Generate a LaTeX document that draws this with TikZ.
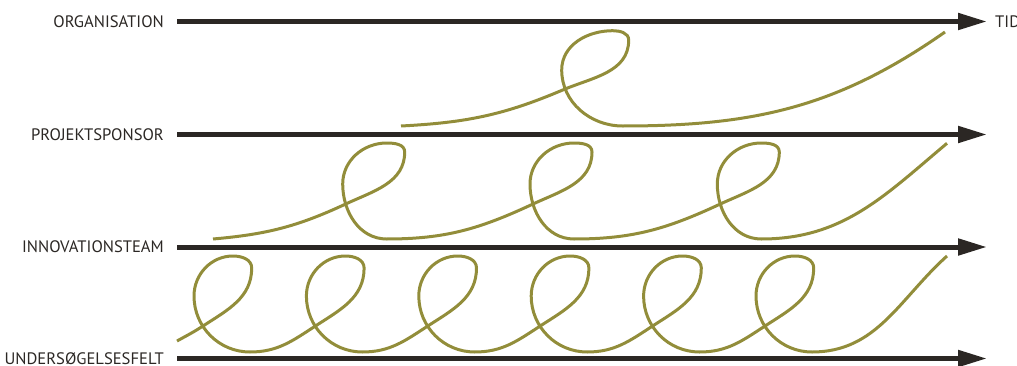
\documentclass[tikz,border=0pt]{standalone}
\usepackage{fontspec}
\setmainfont{PT Sans}
\usetikzlibrary{arrows.meta}
\definecolor{axiscol}{HTML}{2B2724}
\definecolor{olive}{HTML}{928D3A}
\begin{document}
\begin{tikzpicture}[x=1pt,y=1pt,
  axis/.style={draw=axiscol,line width=5pt,-{Triangle[length=29pt,width=16pt]}},
  lbl/.style={anchor=base east,inner sep=0pt,text=axiscol,font=\fontsize{16.6}{20}\selectfont},
  curve/.style={draw=olive,line width=3pt}]
\useasboundingbox (0,0) rectangle (1017,365);
% axes
\coordinate (s1) at (177,343.5); \coordinate (e1) at (987,343.5);
\coordinate (s2) at (177,230.5); \coordinate (e2) at (987,230.5);
\coordinate (s3) at (177,118);   \coordinate (e3) at (987,118);
\coordinate (s4) at (177,6.5);   \coordinate (e4) at (987,6.5);
\draw[axis] (s1) -- (e1);
\draw[axis] (s2) -- (e2);
\draw[axis] (s3) -- (e3);
\draw[axis] (s4) -- (e4);
% labels
\node[lbl] (l1) at (164,337.8) {ORGANISATION};
\node[lbl] (l2) at (164,224.8) {PROJEKTSPONSOR};
\node[lbl] (l3) at (164,112.3) {INNOVATIONSTEAM};
\node[lbl] (l4) at (164,0.8) {UNDERSØGELSESFELT};
\node[lbl,anchor=base west] (tid) at (995,337.8) {TID};
% band 1
\draw[curve] (401,239) to[out=3,in=203] (562.7,275)
  to[out=23,in=270] (628.7,325)
  to[out=90,in=0] (612.7,334.3)
  to[out=180,in=90] (561.7,295)
  to[out=270,in=180] (622.7,239)
  to[out=0,in=215] (945,333);
% band 2
\draw[curve] (213,126)
  \foreach \k/\o in {0/5,1/0,2/0}{
    to[out=\o,in=205] ({345.7+187.3*\k},161)
    to[out=25,in=270] ({345.7+187.3*\k+59},213)
    to[out=90,in=0] ({345.7+187.3*\k+41},222)
    to[out=180,in=90] ({345.7+187.3*\k-3},181)
    to[out=270,in=180] ({345.7+187.3*\k+41},126)
  }
  to[out=0,in=220] (947,221.7);
% band 3
\draw[curve] (177,24)
  \foreach \k/\o in {0/29,1/0,2/0,3/0,4/0,5/0}{
    to[out=\o,in=213] ({203+112.4*\k},39)
    to[out=33,in=270] ({203+112.4*\k+48.7},97)
    to[out=90,in=0] ({203+112.4*\k+30},109)
    to[out=180,in=90] ({203+112.4*\k-9},69)
    to[out=270,in=180] ({203+112.4*\k+47},13)
  }
  to[out=0,in=222] (947,109);
\end{tikzpicture}
\end{document}
